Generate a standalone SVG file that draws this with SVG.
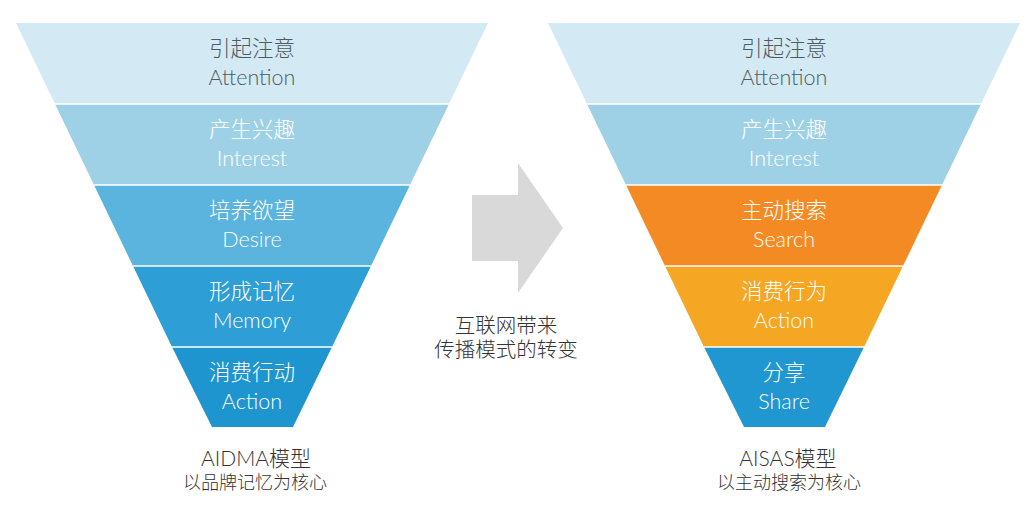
<svg xmlns="http://www.w3.org/2000/svg" width="1036" height="508" viewBox="0 0 1036 508">
<style>
.t{font-family:"Lato","Noto Sans CJK SC",sans-serif;text-anchor:middle;fill:#ffffff}
.zh{font-size:21.5px;font-weight:300}
.en{font-size:21.5px;font-weight:300}
.dark{fill:#4f5b60}
.cap{font-family:"Lato","Noto Sans CJK SC",sans-serif;text-anchor:middle;fill:#333333;font-weight:300}
.sep{stroke:#ffffff;stroke-width:1.5;fill:none}
</style>
<rect width="1036" height="508" fill="#ffffff"/>
<g id="aidma">
<g id="l-attention"><polygon points="16,23 488,23 449,104 55,104" fill="#d3eaf4"/><text class="t zh dark" x="252" y="56">引起注意</text><text class="t en dark" x="252" y="85">Attention</text></g>
<g id="l-interest"><polygon points="55,104 449,104 410,185 94,185" fill="#9fd1e6"/><text class="t zh" x="252" y="137">产生兴趣</text><text class="t en" x="252" y="166">Interest</text></g>
<g id="l-desire"><polygon points="94,185 410,185 371,266 133,266" fill="#5bb4dd"/><text class="t zh" x="252" y="218">培养欲望</text><text class="t en" x="252" y="247">Desire</text></g>
<g id="l-memory"><polygon points="133,266 371,266 332,347 172,347" fill="#2d9fd6"/><text class="t zh" x="252" y="299">形成记忆</text><text class="t en" x="252" y="328">Memory</text></g>
<g id="l-action"><polygon points="172,347 332,347 293,427 212,427" fill="#1e95cf"/><text class="t zh" x="252" y="380">消费行动</text><text class="t en" x="252" y="409">Action</text></g>
<path class="sep" d="M55,104H449M94,185H410M133,266H371M172,347H332"/>
<text class="cap" x="256" y="466" font-size="21">AIDMA模型</text>
<text class="cap" x="255" y="489" font-size="18" fill="#555">以品牌记忆为核心</text>
</g>
<g id="aisas">
<g id="r-attention"><polygon points="548,23 1020,23 981,104 587,104" fill="#d3eaf4"/><text class="t zh dark" x="784" y="56">引起注意</text><text class="t en dark" x="784" y="85">Attention</text></g>
<g id="r-interest"><polygon points="587,104 981,104 942,185 626,185" fill="#9fd1e6"/><text class="t zh" x="784" y="137">产生兴趣</text><text class="t en" x="784" y="166">Interest</text></g>
<g id="r-search"><polygon points="626,185 942,185 903,266 665,266" fill="#f48a23"/><text class="t zh" x="784" y="218">主动搜索</text><text class="t en" x="784" y="247">Search</text></g>
<g id="r-action"><polygon points="665,266 903,266 864,347 704,347" fill="#f5a623"/><text class="t zh" x="784" y="299">消费行为</text><text class="t en" x="784" y="328">Action</text></g>
<g id="r-share"><polygon points="704,347 864,347 825,427 744,427" fill="#2197d2"/><text class="t zh" x="784" y="380">分享</text><text class="t en" x="784" y="409">Share</text></g>
<path class="sep" d="M587,104H981M626,185H942M665,266H903M704,347H864"/>
<text class="cap" x="788" y="466" font-size="21">AISAS模型</text>
<text class="cap" x="789" y="489" font-size="18" fill="#555">以主动搜索为核心</text>
</g>
<g id="connectors">
<polygon id="arrow" points="472,195 518,195 518,163 563,228 518,293 518,261 472,261" fill="#d9d9d9"/>
</g>
<g id="transition-label">
<text class="cap" x="506" y="333" font-size="20.5">互联网带来</text>
<text class="cap" x="506" y="357" font-size="20.5">传播模式的转变</text>
</g>
</svg>
